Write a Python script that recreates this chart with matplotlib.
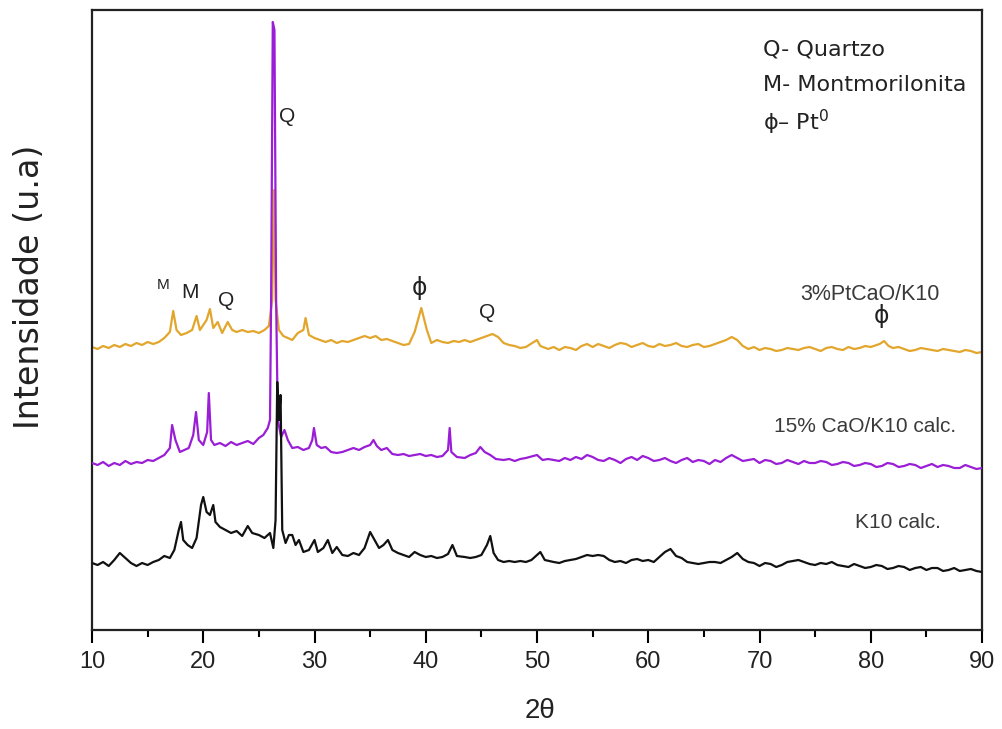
import matplotlib
matplotlib.use("Agg")
import matplotlib.pyplot as plt
from matplotlib import font_manager

names = {f.name for f in font_manager.fontManager.ttflist}
narrow = "Liberation Sans Narrow" if "Liberation Sans Narrow" in names else "Liberation Sans"
plt.rcParams['font.family'] = ['Liberation Sans', 'DejaVu Sans']

# (2theta, intensity a.u.)
k10_calc = [
    (10.0, 67), (10.5, 65), (11.0, 68), (11.5, 64), (12.0, 70), (12.5, 77), (13.0, 72), (13.5, 67),
    (14.0, 64), (14.5, 67), (15.0, 65), (15.5, 68), (16.0, 70), (16.5, 74), (17.0, 72), (17.4, 80),
    (17.8, 100), (18.0, 108), (18.2, 90), (18.6, 85), (19.0, 82), (19.4, 92), (19.8, 125), (20.0, 133),
    (20.3, 118), (20.6, 115), (20.9, 125), (21.1, 108), (21.5, 103), (22.0, 100), (22.5, 97), (23.0, 99),
    (23.5, 94), (24.0, 104), (24.4, 97), (25.0, 95), (25.5, 92), (26.0, 97), (26.3, 82), (26.5, 110),
    (26.65, 248), (26.8, 210), (26.95, 235), (27.1, 100), (27.4, 87), (27.7, 95), (28.0, 95), (28.3, 85),
    (28.6, 90), (29.0, 78), (29.5, 80), (30.0, 90), (30.3, 78), (30.8, 82), (31.2, 90), (31.6, 77),
    (32.0, 83), (32.5, 75), (33.0, 74), (33.5, 77), (34.0, 75), (34.5, 82), (35.0, 98), (35.4, 90),
    (35.8, 82), (36.2, 85), (36.6, 90), (37.0, 80), (37.5, 77), (38.0, 75), (38.5, 73), (39.0, 78),
    (39.5, 75), (40.0, 73), (40.5, 74), (41.0, 72), (41.5, 73), (42.0, 76), (42.4, 85), (42.8, 74),
    (43.5, 73), (44.0, 72), (44.5, 73), (45.0, 75), (45.5, 85), (45.8, 94), (46.1, 77), (46.5, 70),
    (47.0, 68), (47.5, 69), (48.0, 68), (48.5, 69), (49.0, 68), (49.5, 70), (50.0, 75), (50.3, 78),
    (50.7, 70), (51.5, 68), (52.0, 67), (52.5, 69), (53.0, 70), (53.5, 71), (54.0, 73), (54.5, 75),
    (55.0, 74), (55.5, 75), (56.0, 74), (56.5, 70), (57.0, 68), (57.5, 69), (58.0, 67), (58.5, 70),
    (59.0, 71), (59.5, 69), (60.0, 70), (60.5, 68), (61.0, 73), (61.5, 78), (62.0, 81), (62.5, 74),
    (63.0, 72), (63.5, 68), (64.0, 67), (64.5, 66), (65.0, 67), (65.5, 68), (66.0, 68), (66.5, 67),
    (67.0, 70), (67.5, 73), (68.0, 77), (68.5, 71), (69.0, 68), (69.5, 67), (70.0, 64), (70.5, 67),
    (71.0, 66), (71.5, 63), (72.0, 65), (72.5, 68), (73.0, 69), (73.5, 70), (74.0, 68), (74.5, 66),
    (75.0, 65), (75.5, 67), (76.0, 66), (76.5, 68), (77.0, 65), (77.5, 64), (78.0, 63), (78.5, 66),
    (79.0, 64), (79.5, 62), (80.0, 63), (80.5, 65), (81.0, 64), (81.5, 61), (82.0, 62), (82.5, 64),
    (83.0, 63), (83.5, 60), (84.0, 62), (84.5, 63), (85.0, 60), (85.5, 62), (86.0, 62), (86.5, 59),
    (87.0, 60), (87.5, 62), (88.0, 59), (88.5, 60), (89.0, 61), (89.5, 59), (90.0, 58),
]

cao_k10_calc = [
    (10.0, 167), (10.5, 165), (11.0, 168), (11.5, 164), (12.0, 167), (12.5, 165), (13.0, 169), (13.5, 166),
    (14.0, 168), (14.5, 167), (15.0, 170), (15.5, 169), (16.0, 172), (16.5, 175), (17.0, 182), (17.2, 205),
    (17.5, 190), (17.9, 178), (18.3, 180), (18.7, 182), (19.1, 195), (19.35, 218), (19.6, 190), (20.0, 185),
    (20.35, 198), (20.5, 237), (20.7, 190), (21.0, 185), (21.5, 187), (22.0, 184), (22.5, 188), (23.0, 185),
    (23.5, 187), (24.0, 189), (24.5, 186), (25.0, 192), (25.4, 195), (25.8, 202), (26.0, 210), (26.1, 330),
    (26.25, 608), (26.4, 600), (26.55, 330), (26.7, 210), (27.0, 193), (27.3, 200), (27.6, 190), (28.0, 182),
    (28.5, 183), (29.0, 180), (29.5, 182), (29.8, 190), (29.95, 202), (30.2, 185), (30.6, 182), (31.0, 183),
    (31.5, 178), (32.0, 177), (32.5, 178), (33.0, 180), (33.5, 182), (34.0, 180), (34.5, 183), (35.0, 185),
    (35.3, 190), (35.6, 184), (36.0, 180), (36.5, 182), (37.0, 176), (37.5, 175), (38.0, 176), (38.5, 174),
    (39.0, 175), (39.5, 176), (40.0, 174), (40.5, 175), (41.0, 173), (41.5, 174), (42.0, 180), (42.15, 202),
    (42.3, 178), (42.8, 173), (43.5, 172), (44.0, 175), (44.5, 177), (44.9, 183), (45.3, 178), (45.8, 175),
    (46.3, 171), (47.0, 170), (47.5, 171), (48.0, 169), (48.5, 171), (49.0, 172), (50.0, 175), (50.5, 170),
    (51.0, 171), (52.0, 169), (52.5, 172), (53.0, 170), (53.5, 173), (54.0, 171), (54.5, 175), (55.0, 173),
    (55.5, 170), (56.0, 169), (56.5, 172), (57.0, 170), (57.5, 167), (58.0, 171), (58.5, 173), (59.0, 170),
    (59.5, 174), (60.0, 172), (60.5, 169), (61.0, 170), (61.5, 172), (62.0, 169), (62.5, 167), (63.0, 170),
    (63.5, 172), (64.0, 168), (64.5, 170), (65.0, 169), (65.5, 166), (66.0, 170), (66.5, 168), (67.0, 172),
    (67.5, 175), (68.0, 172), (68.5, 169), (69.0, 170), (69.5, 171), (70.0, 167), (70.5, 170), (71.0, 169),
    (71.5, 166), (72.0, 167), (72.5, 170), (73.0, 168), (73.5, 166), (74.0, 169), (74.5, 167), (75.0, 167),
    (75.5, 169), (76.0, 168), (76.5, 165), (77.0, 166), (77.5, 168), (78.0, 167), (78.5, 164), (79.0, 165),
    (79.5, 167), (80.0, 166), (80.5, 163), (81.0, 164), (81.5, 167), (82.0, 166), (82.5, 163), (83.0, 164),
    (83.5, 166), (84.0, 165), (84.5, 162), (85.0, 164), (85.5, 166), (86.0, 163), (86.5, 165), (87.0, 164),
    (87.5, 162), (88.0, 162), (88.5, 165), (89.0, 163), (89.5, 161), (90.0, 162),
]

pt_cao_k10 = [
    (10.0, 283), (10.5, 281), (11.0, 284), (11.5, 282), (12.0, 285), (12.5, 283), (13.0, 286), (13.5, 284),
    (14.0, 287), (14.5, 285), (15.0, 288), (15.5, 286), (16.0, 288), (16.5, 292), (17.0, 298), (17.3, 319),
    (17.6, 300), (18.0, 295), (18.5, 297), (19.0, 300), (19.4, 314), (19.7, 300), (20.0, 305), (20.3, 310),
    (20.6, 321), (20.9, 302), (21.3, 308), (21.7, 297), (22.2, 308), (22.6, 300), (23.0, 298), (23.5, 300),
    (24.0, 298), (24.5, 299), (25.0, 297), (25.5, 300), (25.9, 304), (26.2, 330), (26.35, 440), (26.5, 330),
    (26.8, 300), (27.2, 294), (27.6, 292), (28.0, 290), (28.5, 297), (29.0, 300), (29.2, 312), (29.5, 295),
    (30.0, 292), (30.5, 290), (31.0, 288), (31.5, 290), (32.0, 287), (32.5, 289), (33.0, 288), (33.5, 290),
    (34.0, 292), (34.5, 294), (35.0, 292), (35.5, 294), (36.0, 290), (36.5, 291), (37.0, 289), (37.5, 287),
    (38.0, 285), (38.5, 286), (39.0, 298), (39.6, 322), (40.1, 300), (40.5, 287), (41.0, 290), (41.5, 288),
    (42.0, 287), (42.5, 289), (43.0, 288), (43.5, 290), (44.0, 288), (44.5, 290), (45.0, 292), (45.5, 294),
    (46.0, 296), (46.5, 293), (47.0, 287), (47.5, 285), (48.0, 284), (48.5, 282), (49.0, 283), (50.0, 290),
    (50.3, 284), (51.0, 281), (51.5, 283), (52.0, 280), (52.5, 283), (53.0, 282), (53.5, 280), (54.0, 284),
    (54.5, 286), (55.0, 283), (55.5, 286), (56.0, 284), (56.5, 282), (57.0, 285), (57.5, 287), (58.0, 286),
    (58.5, 283), (59.0, 285), (59.5, 287), (60.0, 284), (60.5, 283), (61.0, 286), (61.5, 284), (62.0, 285),
    (62.5, 287), (63.0, 284), (63.5, 283), (64.0, 285), (64.5, 286), (65.0, 283), (65.5, 284), (66.0, 286),
    (66.5, 288), (67.0, 290), (67.5, 293), (68.0, 290), (68.5, 284), (69.0, 281), (69.5, 283), (70.0, 280),
    (70.5, 282), (71.0, 281), (71.5, 279), (72.0, 280), (72.5, 282), (73.0, 281), (73.5, 280), (74.0, 282),
    (74.5, 283), (75.0, 281), (75.5, 279), (76.0, 282), (76.5, 283), (77.0, 281), (77.5, 280), (78.0, 283),
    (78.5, 281), (79.0, 282), (79.5, 284), (80.0, 283), (80.8, 286), (81.2, 289), (81.6, 284), (82.0, 282),
    (82.5, 283), (83.0, 281), (83.5, 279), (84.0, 280), (84.5, 282), (85.0, 281), (85.5, 280), (86.0, 279),
    (86.5, 281), (87.0, 280), (87.5, 279), (88.0, 278), (88.5, 280), (89.0, 279), (89.5, 277), (90.0, 278),
]

series_labels = ["K10 calc.", "15% CaO/K10 calc.", "3%PtCaO/K10"]
series_colors = ["#111111", "#9A1ED6", "#E2A62C"]
x_ticks = [10, 20, 30, 40, 50, 60, 70, 80, 90]

fig = plt.figure(figsize=(10.03, 7.29), dpi=100)
ax = fig.add_axes([92 / 1003, (729 - 630) / 729, 890 / 1003, 620 / 729])

series = [k10_calc, cao_k10_calc, pt_cao_k10]
zorders = [4, 3, 2]
for s, c, z in zip(series, series_colors, zorders):
    pts = sorted(s)
    ax.plot([p[0] for p in pts], [p[1] for p in pts], color=c, lw=1.6, zorder=z)

ax.set_xlim(10, 90)
ax.set_ylim(0, 620)
ax.set_yticks([])
ax.set_xticks(x_ticks)
ax.set_xticks(range(15, 90, 10), minor=True)
ax.tick_params(axis='x', which='major', direction='out', length=9, width=1.5, pad=6)
ax.tick_params(axis='x', which='minor', direction='out', length=5, width=1.5)
for lab in ax.get_xticklabels():
    lab.set_family([narrow, 'DejaVu Sans'])
    lab.set_fontsize(17)
    lab.set_color('#222222')
for sp in ax.spines.values():
    sp.set_linewidth(1.6)
    sp.set_color('#222222')

fig.text(540 / 1003, 1 - 711 / 729, "2θ", fontsize=20, family=[narrow, 'DejaVu Sans'],
         color='#222222', ha='center', va='center')
fig.text(30 / 1003, 1 - 287 / 729, "Intensidade (u.a)", fontsize=24, family='DejaVu Sans',
         color='#222222', ha='center', va='center', rotation=90)

tc = '#222222'
# peak labels
ax.text(27.5, 513, "Q", fontsize=15, color=tc, ha='center', va='center')
ax.text(16.4, 345, "M", fontsize=11, color=tc, ha='center', va='center')
ax.text(18.8, 338, "M", fontsize=15, color=tc, ha='center', va='center')
ax.text(22.1, 330, "Q", fontsize=15, color=tc, ha='center', va='center')
ax.text(39.4, 342, "ϕ", fontsize=17, color=tc, ha='center', va='center', family='DejaVu Sans')
ax.text(45.5, 317, "Q", fontsize=15, color=tc, ha='center', va='center')
ax.text(81.0, 314, "ϕ", fontsize=17, color=tc, ha='center', va='center', family='DejaVu Sans')

# series labels
lc = '#3a3a3a'
ax.text(79.9, 335, series_labels[2], fontsize=15.5, color=lc, ha='center', va='center')
ax.text(79.5, 204, series_labels[1], fontsize=15, color=lc, ha='center', va='center')
ax.text(82.4, 107, series_labels[0], fontsize=15, color=lc, ha='center', va='center')

# key
ax.text(70.3, 580, "Q- Quartzo", fontsize=16, color=tc, ha='left', va='center', family='DejaVu Sans')
ax.text(70.3, 545, "M- Montmorilonita", fontsize=16, color=tc, ha='left', va='center', family='DejaVu Sans')
ax.text(70.3, 508, "ϕ– Pt$^0$", fontsize=16, color=tc, ha='left', va='center', family='DejaVu Sans')

fig.savefig("out.png", dpi=100)
